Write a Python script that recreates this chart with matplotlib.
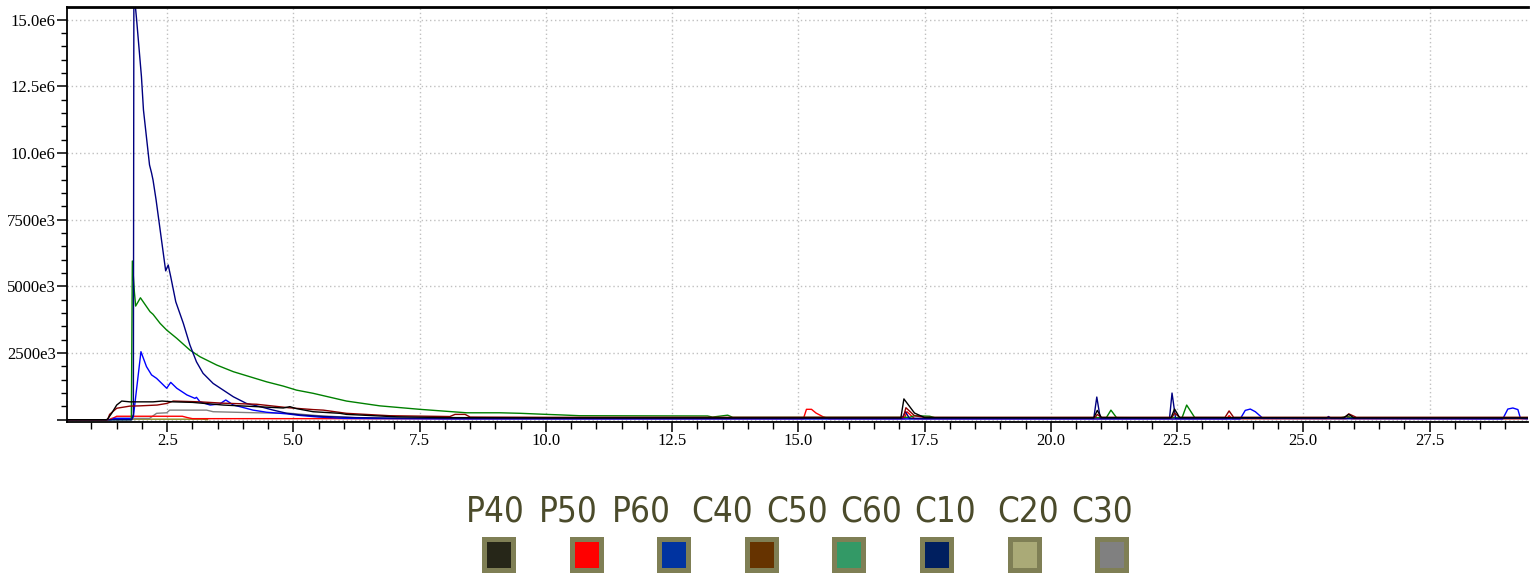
import numpy as np
import matplotlib
matplotlib.use("Agg")
import matplotlib.pyplot as plt
from matplotlib.ticker import MultipleLocator, FuncFormatter
from matplotlib.patches import Rectangle

# retention time (min) vs intensity (in millions) for each run
navy_x = [0.5, 1.80, 1.83, 1.84, 1.86, 1.895, 1.99, 2.03, 2.15, 2.19, 2.22, 2.28, 2.47, 2.52,
          2.57, 2.67, 2.82, 2.95, 3.08, 3.21, 3.41, 3.61, 3.81, 4.07, 4.34, 4.60, 4.87, 5.13,
          5.6, 6.2, 7.0, 8.0, 17.05, 17.12, 17.2, 20.85, 20.91, 20.98, 22.35, 22.40, 22.47,
          25.45, 25.5, 25.55, 29.5]
navy_y = [0, 0, 0.2, 15.7, 15.7, 14.98, 12.86, 11.61, 9.55, 9.25, 8.98, 8.24, 5.58, 5.80,
          5.36, 4.42, 3.61, 2.80, 2.17, 1.74, 1.36, 1.11, 0.86, 0.61, 0.49, 0.36, 0.24, 0.18,
          0.12, 0.08, 0.06, 0.05, 0.05, 0.30, 0.05, 0.05, 0.85, 0.05, 0.05, 1.0, 0.05,
          0.05, 0.12, 0.05, 0.05]

green_x = [0.5, 1.79, 1.81, 1.85, 1.875, 1.97, 2.16, 2.22, 2.36, 2.49, 2.69, 2.95, 3.15, 3.48,
           3.81, 4.14, 4.47, 4.80, 5.06, 5.39, 6.05, 6.71, 7.5, 8.43, 9.09, 9.5, 10.01, 10.3,
           10.67, 13.2, 13.3, 13.6, 13.7, 17.2, 17.3, 17.6, 17.7, 21.1, 21.19, 21.3, 22.6,
           22.69, 22.85, 25.75, 25.85, 25.95, 29.5]
green_y = [0, 0, 5.95, 4.8, 4.26, 4.57, 4.05, 3.95, 3.61, 3.36, 3.05, 2.61, 2.36, 2.05,
           1.80, 1.61, 1.42, 1.26, 1.11, 0.99, 0.70, 0.52, 0.39, 0.26, 0.26, 0.24, 0.20, 0.18,
           0.15, 0.14, 0.10, 0.17, 0.09, 0.09, 0.15, 0.13, 0.08, 0.08, 0.36, 0.08, 0.08,
           0.55, 0.08, 0.08, 0.12, 0.08, 0.08]

blue_x = [0.5, 1.40, 1.45, 1.80, 1.83, 1.98, 2.09, 2.19, 2.29, 2.49, 2.57, 2.69, 2.89, 3.05,
          3.08, 3.15, 3.35, 3.54, 3.66, 3.81, 3.94, 4.2, 4.47, 4.87, 5.13, 5.5, 6.0, 8.0,
          23.75, 23.85, 23.95, 24.05, 24.2, 28.95, 29.05, 29.15, 29.25, 29.3, 29.5]
blue_y = [0, 0, 0.05, 0.05, 0.11, 2.55, 1.99, 1.68, 1.55, 1.18, 1.40, 1.18, 0.93, 0.80,
          0.84, 0.67, 0.55, 0.59, 0.74, 0.55, 0.49, 0.36, 0.28, 0.22, 0.16, 0.10, 0.05, 0.03,
          0.03, 0.35, 0.40, 0.30, 0.05, 0.03, 0.40, 0.44, 0.38, 0.05, 0.03]

black_x = [0.5, 1.30, 1.33, 1.40, 1.50, 1.60, 1.76, 2.22, 2.4, 2.62, 3.0, 3.61, 4.27, 4.8,
           4.93, 5.05, 5.39, 5.92, 6.05, 7.04, 8.0, 10.0, 17.03, 17.09, 17.3, 17.5, 20.85,
           20.92, 21.0, 22.38, 22.45, 22.55, 25.8, 25.9, 26.0, 29.5]
black_y = [0, 0, 0.05, 0.24, 0.55, 0.70, 0.67, 0.67, 0.70, 0.67, 0.65, 0.55, 0.49, 0.44,
           0.49, 0.42, 0.30, 0.24, 0.20, 0.11, 0.08, 0.07, 0.07, 0.78, 0.25, 0.08, 0.07,
           0.35, 0.08, 0.07, 0.40, 0.08, 0.07, 0.20, 0.07, 0.07]

dred_x = [0.5, 1.32, 1.36, 1.50, 1.76, 1.96, 2.3, 2.49, 2.62, 3.15, 3.6, 4.27, 4.9, 5.39,
          5.59, 6.05, 6.91, 8.1, 8.2, 8.4, 8.5, 10.0, 17.08, 17.13, 17.3, 17.5, 20.88, 20.92,
          21.0, 22.4, 22.45, 22.55, 23.45, 23.53, 23.62, 25.82, 25.9, 26.05, 29.5]
dred_y = [0, 0, 0.20, 0.43, 0.51, 0.52, 0.55, 0.61, 0.70, 0.67, 0.62, 0.58, 0.45, 0.38,
          0.36, 0.24, 0.15, 0.12, 0.20, 0.20, 0.10, 0.09, 0.09, 0.45, 0.15, 0.09, 0.09, 0.20,
          0.09, 0.09, 0.25, 0.09, 0.09, 0.33, 0.09, 0.09, 0.22, 0.09, 0.09]

gray_x = [0.5, 1.35, 1.4, 2.15, 2.29, 2.49, 2.55, 3.28, 3.41, 4.27, 4.93, 5.5, 6.5, 29.5]
gray_y = [0, 0, 0.05, 0.05, 0.24, 0.26, 0.36, 0.36, 0.30, 0.26, 0.24, 0.15, 0.05, 0.04]

red_x = [0.5, 1.35, 1.45, 1.5, 2.8, 2.9, 3.0, 15.1, 15.16, 15.26, 15.35, 15.49, 15.6, 17.1,
         17.15, 17.3, 23.48, 23.53, 23.6, 25.85, 25.9, 25.95, 29.5]
red_y = [0, 0, 0.08, 0.13, 0.13, 0.08, 0.04, 0.04, 0.39, 0.39, 0.25, 0.11, 0.04, 0.04,
         0.30, 0.04, 0.04, 0.15, 0.04, 0.04, 0.12, 0.04, 0.04]

olive_x = [1.5, 1.6, 3.2, 3.3]
olive_y = [0.0, 0.02, 0.02, 0.0]

series = [
    (olive_x, olive_y, "#8a8a20"),
    (gray_x, gray_y, "#808080"),
    (red_x, red_y, "#ff0000"),
    (blue_x, blue_y, "#0000ff"),
    (green_x, green_y, "#008000"),
    (navy_x, navy_y, "#000080"),
    (dred_x, dred_y, "#8b0000"),
    (black_x, black_y, "#000000"),
]

legend_labels = ["P40", "P50", "P60", "C40", "C50", "C60", "C10", "C20", "C30"]
swatch_colors = ["#262618", "#ff0000", "#0033a0", "#663300", "#339966",
                 "#001f5f", "#aaaa77", "#808080"]

fig = plt.figure(figsize=(15.3, 5.77), dpi=100)
ax = fig.add_axes([0.0436, 0.2686, 0.9551, 0.7187])

for xs, ys, c in series:
    ax.plot(xs, np.array(ys) * 1e6, color=c, lw=1.0)

ax.set_xlim(0.51, 29.45)
ax.set_ylim(-0.086e6, 15.457e6)

ax.xaxis.set_major_locator(MultipleLocator(2.5))
ax.xaxis.set_minor_locator(MultipleLocator(0.5))
ax.yaxis.set_major_locator(MultipleLocator(2.5e6))
ax.yaxis.set_minor_locator(MultipleLocator(0.5e6))


def yfmt(v, pos):
    if v <= 0:
        return ""
    if v < 1e7:
        return "%de3" % round(v / 1e3)
    return "%.1fe6" % (v / 1e6)


ax.xaxis.set_major_formatter(FuncFormatter(lambda v, p: "%.1f" % v))
ax.yaxis.set_major_formatter(FuncFormatter(yfmt))

ax.grid(True, which="major", color="#c0c0c0", linestyle=(0, (1, 2)), lw=1.0)
ax.tick_params(which="major", direction="out", length=7, width=1.1, labelsize=12, pad=1)
ax.tick_params(which="minor", direction="out", length=4, width=1.0)
ax.tick_params(axis="x", which="minor", length=5)
for lab in ax.get_xticklabels() + ax.get_yticklabels():
    lab.set_fontfamily("Liberation Serif")

ax.spines["right"].set_visible(False)
ax.spines["top"].set_linewidth(2.0)
ax.spines["left"].set_linewidth(1.3)
ax.spines["bottom"].set_linewidth(1.3)

# legend row underneath the plot
label_px = [495, 568, 641, 722, 797, 871, 945, 1028, 1102]
for lab, px in zip(legend_labels, label_px):
    fig.text(px / 1530, 1 - 512 / 577, lab, ha="center", va="center", fontsize=25,
             color="#4b4b2b", family="DejaVu Sans", fontstretch="condensed")

swatch_px = [499, 587, 674, 762, 849, 937, 1025, 1112]
W, H = 34 / 1530, 36 / 577
w, h = 24 / 1530, 26 / 577
for c, px in zip(swatch_colors, swatch_px):
    cx, cy = px / 1530, 1 - 555 / 577
    fig.patches.append(Rectangle((cx - W / 2, cy - H / 2), W, H, transform=fig.transFigure,
                                 facecolor="#7f7f55", edgecolor="none"))
    fig.patches.append(Rectangle((cx - w / 2, cy - h / 2), w, h, transform=fig.transFigure,
                                 facecolor=c, edgecolor="none"))

fig.savefig("out.png", dpi=100)
